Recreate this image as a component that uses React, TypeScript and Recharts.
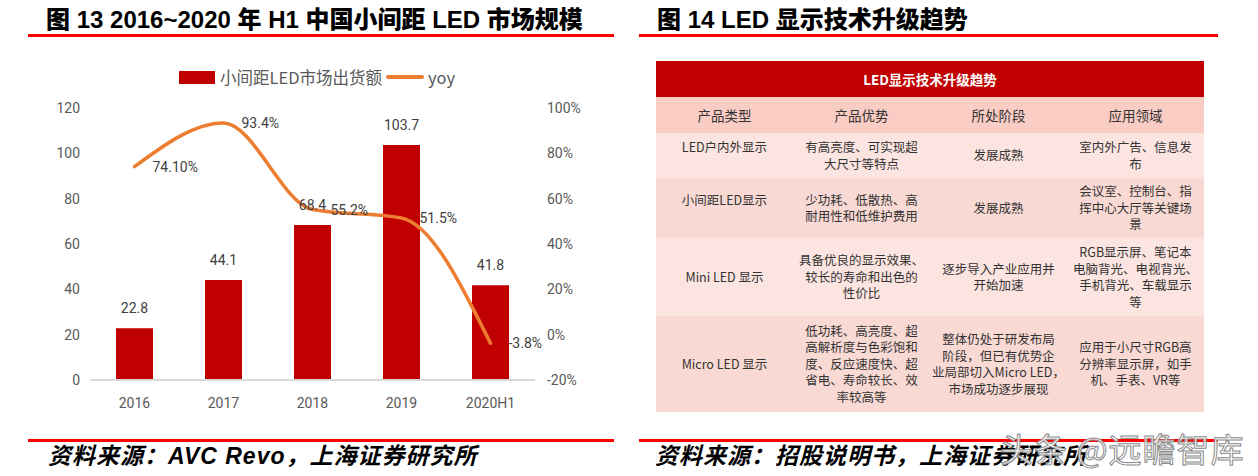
import React from 'react';
import { ComposedChart, Bar, Line, XAxis, YAxis, Legend, LabelList } from 'recharts';

// fig 13: small-pitch LED market
const years = ['2016', '2017', '2018', '2019', '2020H1'];
const shipments = [22.8, 44.1, 68.4, 103.7, 41.8];
const yoy = [74.1, 93.4, 55.2, 51.5, -3.8];
const yoyLabels = ['74.10%', '93.4%', '55.2%', '51.5%', '-3.8%'];
const leftTicks = [0, 20, 40, 60, 80, 100, 120];
const rightTicks = [-20, 0, 20, 40, 60, 80, 100];

// fig 14: table
const tableTitle = 'LED显示技术升级趋势';
const tableHeaders = ['产品类型', '产品优势', '所处阶段', '应用领域'];
const tableRows: string[][][] = [
    [['LED户内外显示', ''], ['有高亮度、可实现超', '大尺寸等特点'], ['发展成熟'], ['室内外广告、信息发', '布']],
    [['小间距LED显示', ''], ['少功耗、低散热、高', '耐用性和低维护费用'], ['发展成熟'], ['会议室、控制台、指', '挥中心大厅等关键场', '景']],
    [['Mini LED 显示'], ['具备优良的显示效果、', '较长的寿命和出色的', '性价比'], ['逐步导入产业应用并', '开始加速'], ['RGB显示屏、笔记本', '电脑背光、电视背光、', '手机背光、车载显示', '等']],
    [['Micro LED 显示'], ['低功耗、高亮度、超', '高解析度与色彩饱和', '度、反应速度快、超', '省电、寿命较长、效', '率较高等'], ['整体仍处于研发布局', '阶段，但已有优势企', '业局部切入Micro LED，', '市场成功逐步展现'], ['应用于小尺寸RGB高', '分辨率显示屏，如手', '机、手表、VR等']],
];
const rowHeights = [45, 60, 78, 96];

const data = years.map((y, i) => ({
    year: y,
    shipments: shipments[i],
    yoy: yoy[i],
    yoyLabel: yoyLabels[i],
}));

const RED = '#C00000';
const ORANGE = '#ED7D31';
const CJK = '"Noto Sans CJK SC", sans-serif';
const HEAD_FONT = '"Liberation Sans", "Noto Sans CJK SC", sans-serif';

// bar entry first, then the line
const LegendContent = ({ payload }: any) => {
    const items = [...(payload || [])].sort((a: any, b: any) => (a.type === 'line' ? 1 : 0) - (b.type === 'line' ? 1 : 0));
    return (
        <div style={{ display: 'flex', justifyContent: 'center', alignItems: 'center', paddingLeft: 14, fontFamily: CJK, fontSize: 16.5, color: '#595959' }}>
            {items.map((entry: any) => (
                <div key={entry.value} style={{ display: 'flex', alignItems: 'center' }}>
                    {entry.type === 'line'
                        ? <span style={{ display: 'inline-block', width: 38, height: 4, borderRadius: 2, background: ORANGE, marginLeft: 4, marginRight: 4 }} />
                        : <span style={{ display: 'inline-block', width: 36, height: 13, background: RED, marginRight: 5 }} />}
                    <span>{entry.value}</span>
                </div>
            ))}
        </div>
    );
};

const Heading = ({ left, text }: { left: number; text: string }) => (
    <div style={{ position: 'absolute', left, top: 7, height: 26, lineHeight: '26px', fontFamily: HEAD_FONT, fontWeight: 900, fontSize: 24, color: '#000', whiteSpace: 'nowrap' }}>
        {text}
    </div>
);

const Source = ({ left, text }: { left: number; text: string }) => (
    <div style={{ position: 'absolute', left, top: 443, height: 26, lineHeight: '26px', fontFamily: HEAD_FONT, fontWeight: 700, fontStyle: 'italic', fontSize: 23, letterSpacing: 1, color: '#000', whiteSpace: 'nowrap' }}>
        {text}
    </div>
);

const RedRule = ({ left, width, top }: { left: number; width: number; top: number }) => (
    <div style={{ position: 'absolute', left, top, width, height: 3, background: '#FF0000' }} />
);

const MarketChart = () => (
    <div style={{ position: 'absolute', left: 0, top: 40 }}>
        <ComposedChart width={620} height={400} data={data} margin={{ top: 68, right: 25, bottom: 30, left: 30 }}
            style={{ fontFamily: 'Roboto, "Noto Sans CJK SC", sans-serif' }}>
            <XAxis dataKey="year" axisLine={{ stroke: '#D9D9D9', strokeWidth: 2 }} tickLine={false}
                tick={{ fill: '#595959', fontSize: 14 }} tickMargin={12} height={30} />
            <YAxis yAxisId="left" domain={[0, 120]} ticks={leftTicks} axisLine={false} tickLine={false}
                tick={{ fill: '#595959', fontSize: 14 }} tickMargin={4} width={60} />
            <YAxis yAxisId="right" orientation="right" domain={[-20, 100]} ticks={rightTicks} axisLine={false} tickLine={false}
                tick={{ fill: '#595959', fontSize: 14 }} tickMargin={6} width={60} tickFormatter={(v) => `${v}%`} />
            <Legend verticalAlign="middle" align="center" layout="horizontal" content={<LegendContent />}
                wrapperStyle={{ top: 25, left: 0, width: 620 }} />
            <Bar yAxisId="left" dataKey="shipments" name="小间距LED市场出货额" fill={RED} barSize={37} isAnimationActive={false}>
                <LabelList dataKey="shipments" position="top" offset={15} fill="#404040" fontSize={14} />
            </Bar>
            <Line yAxisId="right" dataKey="yoy" name="yoy" type="monotone" stroke={ORANGE} strokeWidth={3.5}
                strokeLinecap="round" dot={false} activeDot={false} isAnimationActive={false}>
                <LabelList dataKey="yoyLabel" position="right" offset={18} fill="#404040" fontSize={14} />
            </Line>
        </ComposedChart>
    </div>
);

const cellBase: React.CSSProperties = {
    padding: 0,
    textAlign: 'center',
    verticalAlign: 'middle',
    width: 137,
};

const TrendTable = () => (
    <table style={{ position: 'absolute', left: 656, top: 61, width: 548, borderCollapse: 'collapse', tableLayout: 'fixed', fontFamily: CJK, fontSize: 12.5, lineHeight: '16.5px', color: '#333' }}>
        <tbody>
            <tr style={{ height: 36, background: RED }}>
                <td colSpan={4} style={{ ...cellBase, color: '#fff', fontWeight: 700, fontSize: 13.5 }}>{tableTitle}</td>
            </tr>
            <tr style={{ height: 36, background: '#F9CCC4' }}>
                {tableHeaders.map((h) => (
                    <td key={h} style={{ ...cellBase, fontSize: 13.5 }}>{h}</td>
                ))}
            </tr>
            {tableRows.map((row, r) => (
                <tr key={r} style={{ height: rowHeights[r], background: r % 2 === 0 ? '#FCE5E1' : '#F9D9D4' }}>
                    {row.map((lines, c) => (
                        <td key={c} style={cellBase}>
                            {lines.map((ln, k) => (
                                <div key={k} style={{ height: 16.5, whiteSpace: 'nowrap' }}>{ln}</div>
                            ))}
                        </td>
                    ))}
                </tr>
            ))}
        </tbody>
    </table>
);

export default function App() {
    return (
        <div style={{ position: 'fixed', left: 0, top: 0, width: 1258, height: 476, background: '#fff', overflow: 'hidden' }}>
            <Heading left={46} text="图 13 2016~2020 年 H1 中国小间距 LED 市场规模" />
            <RedRule left={28} width={586} top={34} />
            <MarketChart />
            <RedRule left={28} width={586} top={439} />
            <Source left={48} text="资料来源：AVC Revo，上海证券研究所" />

            <Heading left={657} text="图 14 LED 显示技术升级趋势" />
            <RedRule left={639} width={579} top={34} />
            <TrendTable />
            <RedRule left={639} width={579} top={439} />
            <Source left={655} text="资料来源：招股说明书，上海证券研究所" />
            <div style={{ position: 'absolute', left: 1000, top: 424, fontFamily: CJK, fontSize: 33, letterSpacing: 1, color: 'rgba(255,255,255,0.85)', WebkitTextStroke: '1px #8a8a8a', whiteSpace: 'nowrap' }}>
                头条 @远瞻智库
            </div>
        </div>
    );
}
